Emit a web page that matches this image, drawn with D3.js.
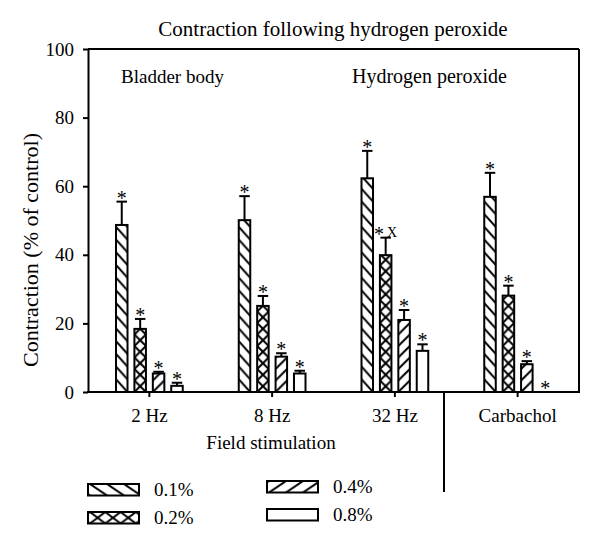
<!DOCTYPE html>
<html>
<head>
<meta charset="utf-8">
<script src="https://cdn.jsdelivr.net/npm/d3@7"></script>
<style>
  html, body { margin: 0; padding: 0; background: #fff; }
  svg { display: block; }
  text { font-family: "Liberation Serif", "Times New Roman", serif; fill: #000; }
</style>
</head>
<body>
<div id="chart"></div>
<script>
// ---- data ----
const categories = ["2 Hz", "8 Hz", "32 Hz", "Carbachol"];
const seriesNames = ["0.1%", "0.2%", "0.4%", "0.8%"];
const values01 = [48.7, 50.1, 62.3, 56.9];
const errors01 = [6.8, 7.0, 8.0, 7.0];
const values02 = [18.4, 25.1, 39.9, 28.1];
const errors02 = [2.9, 2.9, 5.1, 2.9];
const values04 = [5.4, 10.3, 21.0, 8.1];
const errors04 = [0.5, 1.0, 2.9, 0.9];
const values08 = [1.8, 5.4, 12.0, 0];
const errors08 = [0.9, 0.8, 1.9, 0];
const marks02 = ["*", "*", "* X", "*"];
const yTicks = [0, 20, 40, 60, 80, 100];
const titleText = "Contraction following hydrogen peroxide";
const yLabel = "Contraction (% of control)";
const xLabel = "Field stimulation";
const noteLeft = "Bladder body";
const noteRight = "Hydrogen peroxide";

const seriesValues = [values01, values02, values04, values08];
const seriesErrors = [errors01, errors02, errors04, errors08];
const seriesMarks = [categories.map(() => "*"), marks02, categories.map(() => "*"), categories.map(() => "*")];
const seriesType = ["back", "cross", "fwd", "none"];

const W = 600, H = 551;
const L = 88, R = 579, T = 49, B = 392;

const svg = d3.select("#chart").append("svg").attr("width", W).attr("height", H);
const defs = svg.append("defs");

const x0 = d3.scaleBand().domain(categories).range([L, R]).paddingInner(0).paddingOuter(0);
const groupW = x0.step() * 0.6;
const x1 = d3.scaleBand().domain(seriesNames).range([-groupW / 2, groupW / 2]).paddingInner(0.375).paddingOuter(0.1875);
const y = d3.scaleLinear().domain([0, 100]).range([B, T]);

function addPattern(id, type, px, py, w, h, sw) {
  const p = defs.append("pattern").attr("id", id).attr("patternUnits", "userSpaceOnUse")
    .attr("x", px).attr("y", py).attr("width", w).attr("height", h);
  p.append("rect").attr("width", w).attr("height", h).attr("fill", "#fff");
  const segs = [];
  if (type === "back" || type === "cross") {
    segs.push([0, 0, w, h], [-w, 0, 0, h], [w, 0, 2 * w, h], [0, -h, w, 0], [0, h, w, 2 * h]);
  }
  if (type === "fwd" || type === "cross") {
    segs.push([0, h, w, 0], [-w, h, 0, 0], [w, h, 2 * w, 0], [0, 2 * h, w, h], [0, 0, w, -h]);
  }
  segs.forEach(s => p.append("line").attr("x1", s[0]).attr("y1", s[1]).attr("x2", s[2]).attr("y2", s[3])
    .attr("stroke", "#000").attr("stroke-width", sw));
}

// build bar data
const bars = [];
categories.forEach((c, ci) => {
  seriesNames.forEach((s, si) => {
    bars.push({ cat: c, ser: s, si, ci, v: seriesValues[si][ci], e: seriesErrors[si][ci], m: seriesMarks[si][ci] });
  });
});

const periods = [12.7, 11.5, 11.5, 12];
bars.forEach((d, i) => {
  d.x = x0(d.cat) + x0.bandwidth() / 2 + x1(d.ser);
  d.w = x1.bandwidth();
  d.id = "pb" + i;
  if (seriesType[d.si] !== "none") addPattern(d.id, seriesType[d.si], d.x, B, d.w, periods[d.si], 2);
});

// frame top & right
svg.append("line").attr("x1", L).attr("x2", R).attr("y1", T).attr("y2", T).attr("stroke", "#000").attr("stroke-width", 2);
svg.append("line").attr("x1", R).attr("x2", R).attr("y1", T).attr("y2", B).attr("stroke", "#000").attr("stroke-width", 2);

// bars
const g = svg.append("g");
g.selectAll("rect.bar").data(bars.filter(d => d.v > 0)).join("rect").attr("class", "bar")
  .attr("x", d => d.x).attr("y", d => y(d.v)).attr("width", d => d.w).attr("height", d => y(0) - y(d.v))
  .attr("fill", d => seriesType[d.si] === "none" ? "#fff" : `url(#${d.id})`)
  .attr("stroke", "#000").attr("stroke-width", 2);

// error bars
const eb = bars.filter(d => d.e > 0);
g.selectAll("line.err").data(eb).join("line").attr("class", "err")
  .attr("x1", d => d.x + d.w / 2).attr("x2", d => d.x + d.w / 2)
  .attr("y1", d => y(d.v)).attr("y2", d => y(d.v + d.e))
  .attr("stroke", "#000").attr("stroke-width", 2);
g.selectAll("line.cap").data(eb).join("line").attr("class", "cap")
  .attr("x1", d => d.x + 0.5).attr("x2", d => d.x + d.w - 0.5)
  .attr("y1", d => y(d.v + d.e)).attr("y2", d => y(d.v + d.e))
  .attr("stroke", "#000").attr("stroke-width", 2);

// significance marks
const mk = g.selectAll("text.mark").data(bars).join("text").attr("class", "mark")
  .attr("x", d => d.x + d.w / 2).attr("y", d => y(d.v + d.e) + 3)
  .attr("text-anchor", "middle").attr("font-size", 20);
mk.each(function (d) {
  const parts = d.m.split(" ");
  const t = d3.select(this);
  t.append("tspan").text(parts[0]);
  if (parts.length > 1) {
    t.append("tspan").attr("font-size", 14).attr("dx", 3).attr("dy", -4).text(parts[1]);
  }
});

// axes
const yAxis = svg.append("g").attr("transform", `translate(${L},0)`)
  .call(d3.axisLeft(y).tickValues(yTicks).tickSize(5).tickSizeOuter(0).tickPadding(9));
const xAxis = svg.append("g").attr("transform", `translate(0,${B})`)
  .call(d3.axisBottom(x0).tickSize(5).tickSizeOuter(0).tickPadding(12));
[yAxis, xAxis].forEach(a => {
  a.select(".domain").attr("stroke-width", 2);
  a.selectAll(".tick line").attr("stroke-width", 2);
  a.selectAll("text").attr("font-size", 19).attr("font-family", "Liberation Serif");
});
xAxis.select(".domain").attr("d", `M${L - 1},0H${R + 1}`);

// separator below axis
const sepX = x0("Carbachol") + x0.bandwidth() / 2 - x0.step() * 0.6;
svg.append("line").attr("x1", sepX).attr("x2", sepX).attr("y1", B).attr("y2", 492)
  .attr("stroke", "#000").attr("stroke-width", 2);

// texts
svg.append("text").attr("x", 333).attr("y", 36).attr("text-anchor", "middle").attr("font-size", 21).text(titleText);
svg.append("text").attr("x", 121).attr("y", 83).attr("font-size", 19).text(noteLeft);
svg.append("text").attr("x", 352).attr("y", 83).attr("font-size", 20).text(noteRight);
svg.append("text").attr("x", 271).attr("y", 449).attr("text-anchor", "middle").attr("font-size", 19).text(xLabel);
svg.append("text").attr("transform", "translate(38,250) rotate(-90)").attr("text-anchor", "middle")
  .attr("font-size", 22).text(yLabel);

// legend
const legendPos = [[88, 484], [88, 512], [267, 481], [267, 509]];
const legPeriods = [17, 15.3, 17, 17];
const leg = svg.append("g");
seriesNames.forEach((s, i) => {
  const [lx, ly] = legendPos[i];
  const id = "pl" + i;
  if (seriesType[i] !== "none") addPattern(id, seriesType[i], lx + 2, ly, legPeriods[i], 11.5, 2);
  leg.append("rect").attr("x", lx).attr("y", ly).attr("width", 51).attr("height", 11.5)
    .attr("fill", seriesType[i] === "none" ? "#fff" : `url(#${id})`)
    .attr("stroke", "#000").attr("stroke-width", 2);
  leg.append("text").attr("x", lx + 66).attr("y", ly + 12).attr("font-size", 19).text(s);
});
</script>
</body>
</html>
